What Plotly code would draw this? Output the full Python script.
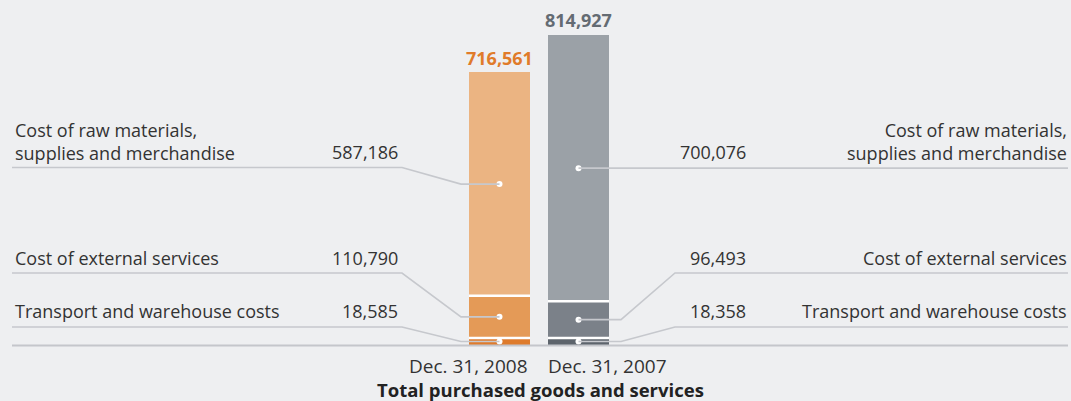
import plotly.graph_objects as go

# ---- data ----
periods = ["Dec. 31, 2008", "Dec. 31, 2007"]
categories = ["Transport and warehouse costs", "Cost of external services",
              "Cost of raw materials,<br>supplies and merchandise"]
values_2008 = [18585, 110790, 587186]
values_2007 = [18358, 96493, 700076]
totals = [716561, 814927]
total_labels = ["716,561", "814,927"]
value_labels_2008 = ["18,585", "110,790", "587,186"]
value_labels_2007 = ["18,358", "96,493", "700,076"]
axis_title = "Total purchased goods and services"

# ---- style / layout ----
W, H = 1071, 401
BG = "#eeeff1"
colors_2008 = ["#de7b2c", "#e49a57", "#ebb482"]
colors_2007 = ["#5d646c", "#7b8189", "#9ba1a7"]
total_colors = ["#e07b2a", "#646b73"]
LINE = "#c6c8cd"
TXT = "#333333"
FONT = "Open Sans"

bar_x = [499.5, 578.5]
bar_w = 61
base_px = 345
top_px = 35
scale = (base_px - top_px) / 814927.0  # px per unit


def yv(p):
    """pixel row -> data value"""
    return (base_px - p) / scale


fig = go.Figure()

# stacked bars
for i in range(3):
    fig.add_trace(go.Bar(
        x=bar_x, y=[values_2008[i], values_2007[i]], width=bar_w,
        marker=dict(color=[colors_2008[i], colors_2007[i]], line=dict(width=0)),
        hoverinfo="skip", showlegend=False))

shapes = []
# white separators between segments
for vals, xc in ((values_2008, bar_x[0]), (values_2007, bar_x[1])):
    cum = 0
    for v in vals[:-1]:
        cum += v
        shapes.append(dict(type="line", xref="x", yref="y",
                           x0=xc - bar_w / 2, x1=xc + bar_w / 2, y0=cum, y1=cum,
                           line=dict(color="white", width=2.5)))

# baseline
shapes.append(dict(type="line", xref="x", yref="y", x0=12, x1=1068,
                   y0=yv(345.5), y1=yv(345.5), line=dict(color="#c4c6cb", width=2)))


def mids(vals):
    out, cum = [], 0
    for v in vals:
        out.append(cum + v / 2)
        cum += v
    return out


mid08 = mids(values_2008)
mid07 = mids(values_2007)

# row pixel positions: transport, external, raw
row_line_px = [327, 273, 167.5]
row_text_px = [311, 258, 141.5]
row_value_px = [311, 258, 152]

# left leader lines
for i in range(3):
    yl = yv(row_line_px[i])
    ym = mid08[i]
    path = f"M 12 {yl} L 402 {yl} L 461 {ym} L {bar_x[0]} {ym}"
    shapes.append(dict(type="path", xref="x", yref="y", path=path,
                       line=dict(color=LINE, width=1.6)))

# right leader lines
for i in range(3):
    yl = yv(row_line_px[i])
    ym = mid07[i]
    if i == 2:
        path = f"M {bar_x[1]} {ym} L 1068 {ym}"
    else:
        path = f"M {bar_x[1]} {ym} L 621 {ym} L 675 {yl} L 1068 {yl}"
    shapes.append(dict(type="path", xref="x", yref="y", path=path,
                       line=dict(color=LINE, width=1.6)))

# dots
fig.add_trace(go.Scatter(x=[bar_x[0]] * 3 + [bar_x[1]] * 3, y=mid08 + mid07,
                         mode="markers", marker=dict(color="white", size=6),
                         hoverinfo="skip", showlegend=False))

annotations = []
fs = 18
for i in range(3):
    yt = yv(row_text_px[i])
    yvl = yv(row_value_px[i])
    annotations.append(dict(x=13, y=yt, xref="x", yref="y", text=categories[i],
                            showarrow=False, xanchor="left", yanchor="middle",
                            align="left", font=dict(size=fs, color=TXT, family=FONT)))
    annotations.append(dict(x=400, y=yvl, xref="x", yref="y", text=value_labels_2008[i],
                            showarrow=False, xanchor="right", yanchor="middle",
                            font=dict(size=fs, color=TXT, family=FONT)))
    annotations.append(dict(x=748, y=yvl, xref="x", yref="y", text=value_labels_2007[i],
                            showarrow=False, xanchor="right", yanchor="middle",
                            font=dict(size=fs, color=TXT, family=FONT)))
    annotations.append(dict(x=1069, y=yt, xref="x", yref="y", text=categories[i],
                            showarrow=False, xanchor="right", yanchor="middle",
                            align="right", font=dict(size=fs, color=TXT, family=FONT)))

# totals
total_px = [58, 20]
for j in range(2):
    annotations.append(dict(x=bar_x[j], y=yv(total_px[j]), xref="x", yref="y",
                            text=f"<b>{total_labels[j]}</b>", showarrow=False,
                            xanchor="center", yanchor="middle",
                            font=dict(size=18, color=total_colors[j], family=FONT)))

# period labels
annotations.append(dict(x=530, y=yv(366), xref="x", yref="y", text=periods[0],
                        showarrow=False, xanchor="right", yanchor="middle",
                        font=dict(size=19, color=TXT, family=FONT)))
annotations.append(dict(x=546, y=yv(366), xref="x", yref="y", text=periods[1],
                        showarrow=False, xanchor="left", yanchor="middle",
                        font=dict(size=19, color=TXT, family=FONT)))
annotations.append(dict(x=540, y=yv(389), xref="x", yref="y",
                        text=f"<b>{axis_title}</b>",
                        showarrow=False, xanchor="center", yanchor="middle",
                        font=dict(size=18.5, color="#222222", family=FONT)))

fig.update_layout(
    width=W, height=H, margin=dict(l=0, r=0, t=0, b=0),
    paper_bgcolor=BG, plot_bgcolor=BG, barmode="stack",
    xaxis=dict(range=[0, W], visible=False, fixedrange=True),
    yaxis=dict(range=[yv(H), yv(0)], visible=False, fixedrange=True),
    shapes=shapes, annotations=annotations,
)

fig.write_html("out.html")
